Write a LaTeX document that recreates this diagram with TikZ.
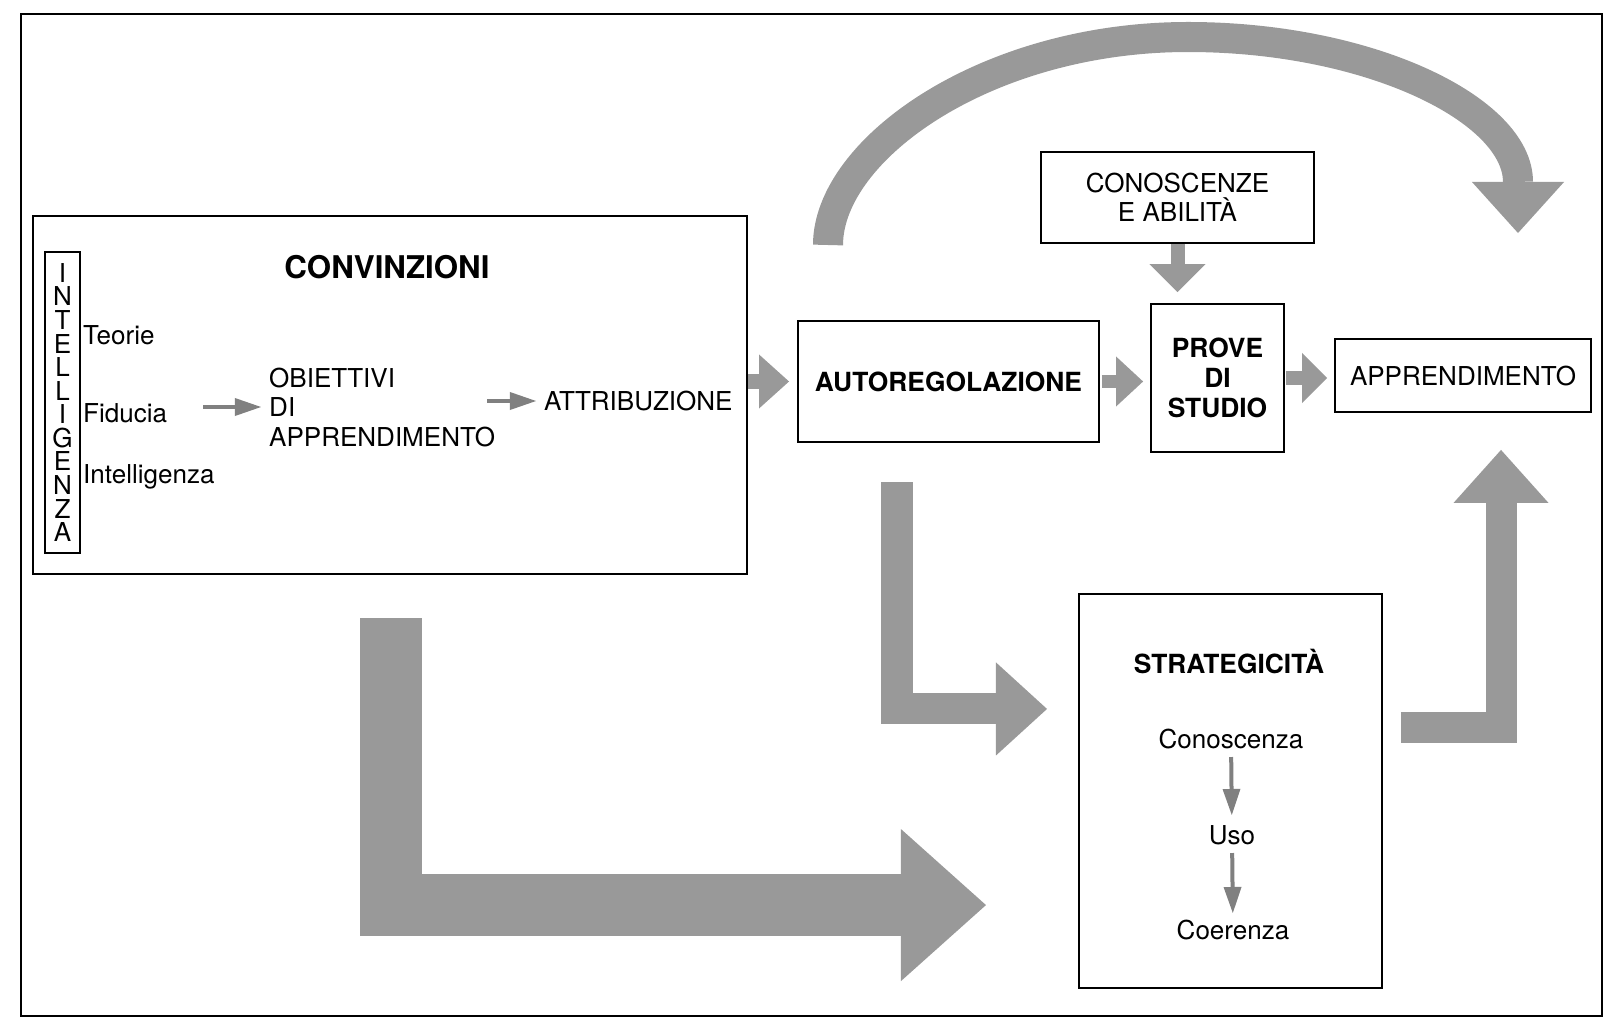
\documentclass[tikz,border=0pt]{standalone}
\usepackage{fontspec}
\setmainfont{TeX Gyre Heros}
\usetikzlibrary{positioning,arrows.meta}
\tikzset{
    box/.style={
        rectangle,
        draw=black,
        line width=0.5pt,
        inner sep=0pt
    },
    txt/.style={
        font=\fontsize{7.4}{8.4}\selectfont,
        inner sep=1pt,
        text depth=0pt
    },
    boldtxt/.style={
        font=\fontsize{7.5}{8.5}\selectfont\bfseries,
        inner sep=1pt,
        text depth=0pt
    },
    blockarrow/.style={
        draw=black!40,
        line join=miter
    },
    smallarrow/.style={
        draw=black!50,
        line width=0.04cm,
        -{Triangle[length=0.26cm,width=0.18cm,line width=0pt]}
    }
}
\begin{document}
\begin{tikzpicture}[x=0.01cm,y=-0.01cm]
          \useasboundingbox (0,0) rectangle (1620,1027);
          \draw [line width=0.5pt] (21,14) rectangle (1602,1016);
          % convinzioni
          \node (conv) [box, minimum width=7.14cm, minimum height=3.58cm] at (390,395) {};
          \node (convtitle) [boldtxt, font=\fontsize{8.9}{10}\selectfont\bfseries] at (387,267) {CONVINZIONI};
          \node (intel) [box, txt, align=center, font=\fontsize{7.4}{6.7}\selectfont, minimum width=0.35cm, minimum height=3.01cm] at (62.5,402.5) {I\\N\\T\\E\\L\\L\\I\\G\\E\\N\\Z\\A};
          \node (teorie) [txt, anchor=west] at (79,335.5) {Teorie};
          \node (fid) [txt, anchor=west] at (79,413.5) {Fiducia};
          \node (intell) [txt, anchor=west] at (79,474) {Intelligenza};
          \node (obj) [txt, anchor=west, align=left] at (265,407) {OBIETTIVI\\DI\\APPRENDIMENTO};
          \node (attr) [txt, anchor=west] at (540,401) {ATTRIBUZIONE};
          \draw [smallarrow, shorten <=0.32cm, shorten >=0.04cm] (fid.east |- obj.west) -- (obj.west);
          \draw [smallarrow, shorten <=-0.12cm, shorten >=0.04cm] (obj.east |- attr.west) -- (attr.west);
          % right part
          \node (auto) [box, boldtxt, minimum width=3.01cm, minimum height=1.21cm] at (948.5,381.5) {AUTOREGOLAZIONE};
          \node (prove) [box, boldtxt, align=center, minimum width=1.33cm, minimum height=1.48cm] at (1217.5,378) {PROVE\\DI\\STUDIO};
          \node (appr) [box, txt, minimum width=2.56cm, minimum height=0.73cm] at (1463,375.5) {APPRENDIMENTO};
          \node (cono) [box, txt, align=center, minimum width=2.73cm, minimum height=0.91cm] at (1177.5,197.5) {CONOSCENZE\\E ABILITÀ};
          \node (strat) [box, minimum width=3.03cm, minimum height=3.94cm] at (1230.5,791) {};
          \node (strattitle) [boldtxt] at (1229,661) {STRATEGICITÀ};
          \node (conosc) [txt] at (1231,739) {Conoscenza};
          \node (uso) [txt] at (1232,835) {Uso};
          \node (coer) [txt] at (1233,930) {Coerenza};
          \draw [smallarrow, shorten <=0.18cm, shorten >=0.2cm] (conosc.center) -- (uso.center);
          \draw [smallarrow, shorten <=0.18cm, shorten >=0.17cm] (uso.center) -- (coer.center);
          % block arrows
          \draw [blockarrow, line width=0.15cm, -{Triangle[length=0.3cm,width=0.54cm,line width=0pt]}, shorten >=0.08cm] (auto.west -| conv.east) -- (auto.west);
          \draw [blockarrow, line width=0.13cm, -{Triangle[length=0.27cm,width=0.5cm,line width=0pt]}, shorten <=0.02cm, shorten >=0.07cm] (auto.east) -- (auto.east -| prove.west);
          \draw [blockarrow, line width=0.13cm, -{Triangle[length=0.25cm,width=0.5cm,line width=0pt]}, shorten <=0.01cm, shorten >=0.07cm] (prove.east) -- (prove.east -| appr.west);
          \draw [blockarrow, line width=0.14cm, -{Triangle[length=0.28cm,width=0.56cm,line width=0pt]}, shorten >=0.11cm] (cono.south) -- (cono.south |- prove.north);
          \coordinate (arcl) at (828,245);
          \coordinate (arcr) at (1518,233);
          \draw [blockarrow, line width=0.3cm, -{Triangle[length=0.51cm,width=0.92cm,line width=0pt]}] (arcl) .. controls (828,150) and (985,37) .. (1188,37) .. controls (1370,37) and (1518,110) .. (arcr);
          \coordinate (regdown) at (897,482);
          \draw [blockarrow, line width=0.31cm, -{Triangle[length=0.51cm,width=0.93cm,line width=0pt]}] (regdown) |- ([xshift=-0.31cm,yshift=0.82cm]strat.west);
          \coordinate (convdown) at (391,618);
          \draw [blockarrow, line width=0.62cm, -{Triangle[length=0.85cm,width=1.52cm,line width=0pt]}] (convdown) |- ([xshift=-0.92cm,yshift=-1.14cm]strat.west);
          \draw [blockarrow, line width=0.31cm, -{Triangle[length=0.53cm,width=0.95cm,line width=0pt]}] ([xshift=0.18cm,yshift=0.63cm]strat.east) -| ([xshift=0.38cm,yshift=-0.37cm]appr.south);
\end{tikzpicture}
\end{document}
